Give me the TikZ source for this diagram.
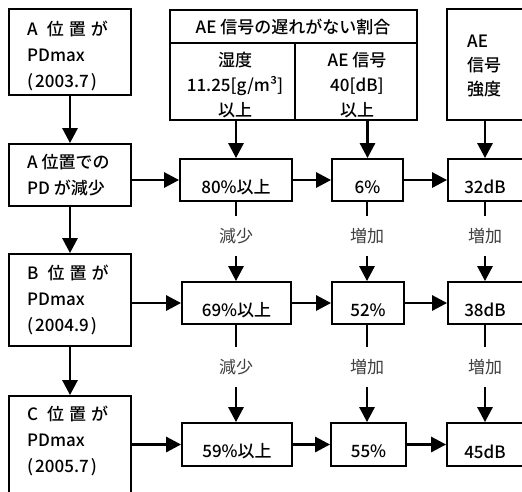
\documentclass[tikz,border=0pt]{standalone}
\usepackage{fontspec}
\setmainfont{Noto Sans CJK JP Medium}
\newfontfamily\lblfont{Noto Sans CJK JP}
\usetikzlibrary{arrows.meta}
\begin{document}
\begin{tikzpicture}[x=1pt,y=-1pt,
  box/.style={draw, line width=1.8pt, inner sep=0pt},
  txt/.style={font=\fontsize{17}{26}\selectfont, inner sep=0pt},
  lbl/.style={font=\lblfont\fontsize{17}{26}\selectfont, text=black!75, inner sep=0pt, minimum height=40pt},
  arr/.style={line width=2.8pt, -{Triangle[length=15pt,width=15pt]}},
  seg/.style={line width=2.8pt},
  divline/.style={line width=1.8pt}]
\useasboundingbox (0,0) rectangle (522,491);
\clip (0,0) rectangle (522,491);
\fill[white] (0,0) rectangle (522,491);
% column helper
\coordinate (x3) at (485,0);
% left column
\node[box, minimum width=122pt, minimum height=86pt] (pa) at (70,52) {};
\node[txt, align=left, anchor=west] (pat) at (27,56) {A\hspace{9pt}位\hspace{5pt}置\hspace{5pt}が\\PDmax\\(\hspace{2pt}2003.7\hspace{2pt})};
\node[box, minimum width=122pt, minimum height=62pt] (pb) at (70,175) {};
\node[txt, align=left, anchor=west] (pbt) at (27,175) {A 位置での\\PD が減少};
\node[box, minimum width=122pt, minimum height=92pt] (pc) at (70,300) {};
\node[txt, align=left, anchor=west] (pct) at (27,300) {B\hspace{9pt}位\hspace{5pt}置\hspace{5pt}が\\PDmax\\(\hspace{2pt}2004.9\hspace{2pt})};
\node[box, minimum width=122pt, minimum height=110pt] (pd) at (70,451) {};
\node[txt, align=left, anchor=west] (pdt) at (27,441) {C\hspace{9pt}位\hspace{5pt}置\hspace{5pt}が\\PDmax\\(\hspace{2pt}2005.7\hspace{2pt})};
% header
\node[box, minimum width=247pt, minimum height=110pt] (hdr) at (293.5,65) {};
\coordinate (hdiv) at (0,43);
\coordinate (vdiv) at (295,43);
\draw[divline] (hdr.west |- hdiv) -- (hdr.east |- hdiv);
\draw[divline] (vdiv) -- (vdiv |- hdr.south);
\node[txt] (hdrt) at (293,27) {AE 信号の遅れがない割合};
\node[txt, align=center, font=\fontsize{17}{25}\selectfont] (humt) at (235,85) {湿度\\11.25[g/m³]\\以上};
\node[txt, align=center, font=\fontsize{17}{25}\selectfont] (aet) at (357,85) {AE 信号\\40[dB]\\以上};
\node[box, minimum width=85pt, minimum height=111pt] (aes) at (489.5,64.5) {};
\node[txt, align=left, anchor=west, font=\fontsize{17}{24}\selectfont] (aest) at (467,66) {AE\\信号\\強度};
% row 1
\node[box, minimum width=112pt, minimum height=42pt] (r1a) at (236,180) {};
\node[box, minimum width=71pt, minimum height=42pt] (r1b) at (367.5,180) {};
\node[box, minimum width=82pt, minimum height=42pt] (r1c) at (489,180) {};
\node[txt] (r1at) at ([yshift=-7pt]r1a.center) {80\%以上};
\node[txt] (r1bt) at ([yshift=-7pt]r1b.center) {6\%};
\node[txt] (r1ct) at ([yshift=-7pt]r1c.center -| x3) {32dB};
% row 2
\node[box, minimum width=109pt, minimum height=42pt] (r2a) at (236.5,303) {};
\node[box, minimum width=72pt, minimum height=42pt] (r2b) at (368,303) {};
\node[box, minimum width=82pt, minimum height=42pt] (r2c) at (489,303) {};
\node[txt] (r2at) at ([yshift=-7pt]r2a.center) {69\%以上};
\node[txt] (r2bt) at ([yshift=-7pt]r2b.center) {52\%};
\node[txt] (r2ct) at ([yshift=-7pt]r2c.center -| x3) {38dB};
% row 3
\node[box, minimum width=110pt, minimum height=43pt] (r3a) at (237,444.5) {};
\node[box, minimum width=75pt, minimum height=43pt] (r3b) at (368.5,444.5) {};
\node[box, minimum width=83pt, minimum height=43pt] (r3c) at (488.5,444.5) {};
\node[txt] (r3at) at ([yshift=-7pt]r3a.center) {59\%以上};
\node[txt] (r3bt) at ([yshift=-7pt]r3b.center) {55\%};
\node[txt] (r3ct) at ([yshift=-7pt]r3c.center -| x3) {45dB};
% left column arrows
\draw[arr] (pa.south) -- (pb.north);
\draw[arr] (pb.south) -- (pc.north);
\draw[arr] (pc.south) -- (pd.north);
% header arrows
\draw[arr] (hdr.south -| r1a.north) -- (r1a.north);
\draw[arr] (hdr.south -| r1b.north) -- (r1b.north);
\draw[arr] (aes.south -| x3) -- (r1c.north -| x3);
% horizontal arrows
\draw[arr] (pb.east |- r1a.west) -- (r1a.west);
\draw[arr] (r1a.east) -- (r1b.west);
\draw[arr] (r1b.east) -- (r1c.west);
\draw[arr] (pc.east |- r2a.west) -- (r2a.west);
\draw[arr] (r2a.east) -- (r2b.west);
\draw[arr] (r2b.east) -- (r2c.west);
\draw[arr] (pd.east |- r3a.west) -- (r3a.west);
\draw[arr] (r3a.east) -- (r3b.west);
\draw[arr] (r3b.east) -- (r3c.west);
% between rows
\node[lbl] (l1a) at (236,236) {減少};
\node[lbl] (l1b) at (367,236) {増加};
\node[lbl] (l1c) at (485,236) {増加};
\node[lbl] (l2a) at (236,367) {減少};
\node[lbl] (l2b) at (367,367) {増加};
\node[lbl] (l2c) at (485,367) {増加};
\draw[seg] (l1a.north |- r1a.south) -- (l1a.north);
\draw[arr] (l1a.south) -- (l1a.south |- r2a.north);
\draw[seg] (l1b.north |- r1b.south) -- (l1b.north);
\draw[arr] (l1b.south) -- (l1b.south |- r2b.north);
\draw[seg] (l1c.north |- r1c.south) -- (l1c.north);
\draw[arr] (l1c.south) -- (l1c.south |- r2c.north);
\draw[seg] (l2a.north |- r2a.south) -- (l2a.north);
\draw[arr] (l2a.south) -- (l2a.south |- r3a.north);
\draw[seg] (l2b.north |- r2b.south) -- (l2b.north);
\draw[arr] (l2b.south) -- (l2b.south |- r3b.north);
\draw[seg] (l2c.north |- r2c.south) -- (l2c.north);
\draw[arr] (l2c.south) -- (l2c.south |- r3c.north);
\end{tikzpicture}
\end{document}
